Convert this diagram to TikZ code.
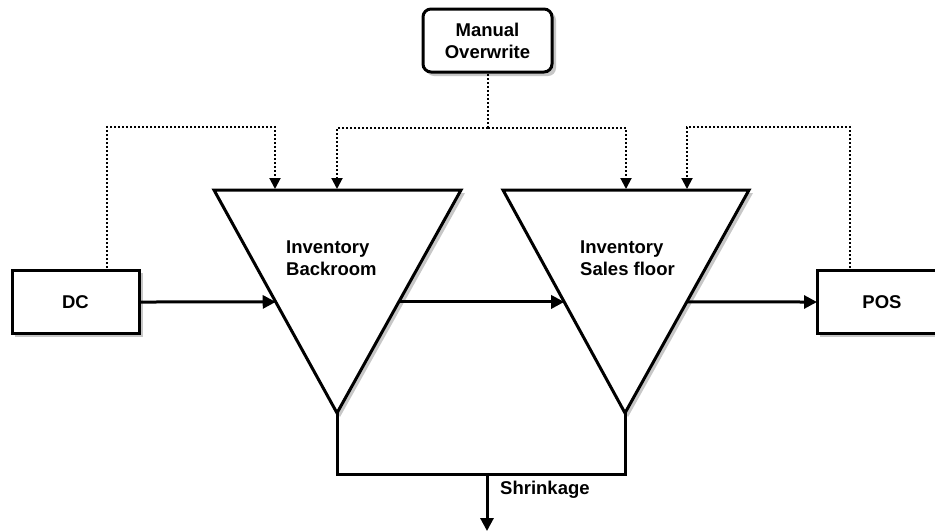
\documentclass[tikz,border=0pt]{standalone}
\usepackage{fontspec}
\setmainfont{Liberation Sans}
\usetikzlibrary{arrows.meta,calc}
\tikzset{
  shape line/.style={line width=3pt, line join=miter},
  shadow fill/.style={fill=black!22, draw=none},
  flow/.style={line width=3pt, -{Triangle[length=13pt,width=13pt]}},
  plain flow/.style={line width=3pt},
  ctrl/.style={line width=2pt, dash pattern=on 2pt off 2pt, -{Triangle[length=11pt,width=11pt]}},
  ctrl plain/.style={line width=2pt, dash pattern=on 2pt off 2pt},
  lbl/.style={font=\bfseries\fontsize{18.5}{22}\selectfont, inner sep=0pt, align=center},
  lblL/.style={lbl, align=left, anchor=west},
}
\begin{document}
\begin{tikzpicture}[x=1pt,y=-1pt]
\useasboundingbox (0,0) rectangle (935,531);
\fill[white] (0,0) rectangle (935,531);

% triangle vertices
\coordinate (t1l) at (214,190); \coordinate (t1r) at (461,190); \coordinate (t1b) at (337,413);
\coordinate (t2l) at (503,190); \coordinate (t2r) at (749,190); \coordinate (t2b) at (625,413);

% shadows
\fill[shadow fill, rounded corners=8pt] (426,12) rectangle (556,76);
\fill[shadow fill] (15,273) rectangle (143,337);
\fill[shadow fill] (820,273) rectangle (951,337);
\fill[shadow fill] ($(t1l)+(3,3)$) -- ($(t1r)+(4,3)$) -- ($(t1b)+(3,4)$) -- cycle;
\fill[shadow fill] ($(t2l)+(3,3)$) -- ($(t2r)+(4,3)$) -- ($(t2b)+(3,4)$) -- cycle;

% shapes
\draw[shape line, fill=white, rounded corners=8pt] (423,9) rectangle (552,72);
\draw[shape line, fill=white] (12,270) rectangle (139,333);
\draw[shape line, fill=white] (817,270) rectangle (947,333);
\draw[shape line, fill=white] (t1l) -- (t1r) -- (t1b) -- cycle;
\draw[shape line, fill=white] (t2l) -- (t2r) -- (t2b) -- cycle;

% labels
\node[lbl] (mo) at (487.5,41) {Manual\\Overwrite};
\node[lbl] (dc) at (75.5,302) {DC};
\node[lbl] (pos) at (882,302) {POS};
\node[lblL] (invb) at (286,258) {Inventory\\Backroom};
\node[lblL] (invs) at (580,258) {Inventory\\Sales floor};

% connection points
\coordinate (dcE) at (139,302);
\coordinate (dcN) at (107,268);
\coordinate (posW) at (817,302);
\coordinate (posN) at (850,268);
\coordinate (moS) at (488,74);
\coordinate (t1in) at ($(t1l)!0.502!(t1b)$);
\coordinate (t1out) at ($(t1r)!0.502!(t1b)$);
\coordinate (t2in) at ($(t2l)!0.502!(t2b)$);
\coordinate (t2out) at ($(t2r)!0.502!(t2b)$);
\coordinate (t1a) at (275,189); \coordinate (t1m) at (337,189);
\coordinate (t2m) at (626,189); \coordinate (t2a) at (687,189);
\coordinate (join) at (487,474);
\coordinate (sink) at (487,531);

% material flow
\draw[flow] (dcE) -- (t1in);
\draw[flow] (t1out) -- (t2in);
\draw[flow] (t2out) -- (posW);
\draw[plain flow, line join=miter] (t1b) -- (337,474) -- (625,474) -- (t2b);
\draw[flow] (join) -- (sink);
\node[lblL] (shr) at (500,490) {Shrinkage};

% information flow
\draw[ctrl] (dcN) -- (107,127) -- (275,127) -- (t1a);
\draw[ctrl] (posN) -- (850,127) -- (687,127) -- (t2a);
\draw[ctrl plain] (moS) -- (488,128);
\draw[ctrl] (488,128) -- (337,128) -- (t1m);
\draw[ctrl] (488,128) -- (626,128) -- (t2m);
\end{tikzpicture}
\end{document}
